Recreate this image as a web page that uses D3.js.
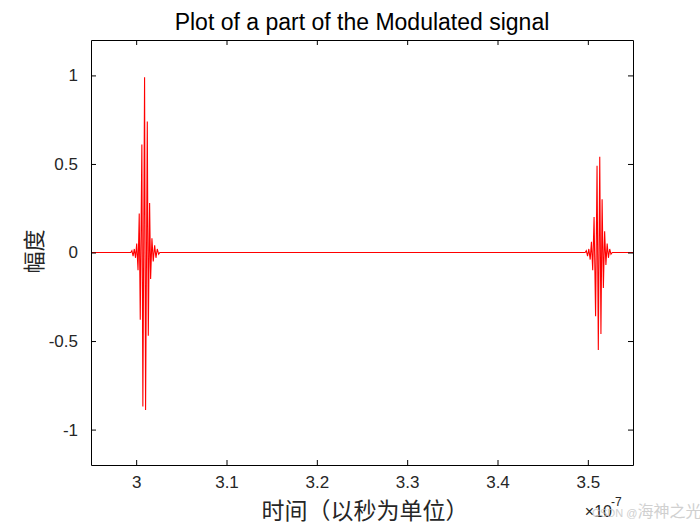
<!DOCTYPE html>
<html>
<head>
<meta charset="utf-8">
<script src="https://cdn.jsdelivr.net/npm/d3@7"></script>
<style>
body { margin: 0; background: #fff; }
text { font-family: "Liberation Sans", Arial, sans-serif; }
.cjk { font-family: "Noto Sans CJK SC", sans-serif; }
</style>
</head>
<body>
<script>
// time values in units of 1e-7 s, amplitude
var pulse1Time = [2.95, 2.99400, 2.99526, 2.99660, 2.99794, 2.99928, 3.00061, 3.00206, 3.00340, 3.00452,
                  3.00630, 3.00741, 3.00931, 3.01042, 3.01232, 3.01343, 3.01488, 3.01600,
                  3.01745, 3.01890, 3.02046, 3.02191, 3.02336, 3.02492, 3.02620];
var pulse1Amp  = [0, 0, 0.01, -0.02, 0.02, -0.03, 0.05, -0.10, 0.22, -0.38,
                  0.61, -0.87, 0.99, -0.89, 0.74, -0.47, 0.28, -0.15,
                  0.08, -0.05, 0.04, -0.03, 0.02, -0.01, 0];

var pulse2Time = [3.49700, 3.49830, 3.49970, 3.50110, 3.50260, 3.50400, 3.50540, 3.50690, 3.50860,
                  3.51020, 3.51160, 3.51320, 3.51450, 3.51580, 3.51720, 3.51860, 3.52000,
                  3.52140, 3.52280, 3.52420, 3.52560, 3.52700, 3.55];
var pulse2Amp  = [0, 0.01, -0.02, 0.02, -0.04, 0.06, -0.10, 0.20, -0.36,
                  0.49, -0.55, 0.54, -0.46, 0.30, -0.20, 0.12, -0.07,
                  0.05, -0.03, 0.02, -0.01, 0, 0];

var xTicks = [3.0, 3.1, 3.2, 3.3, 3.4, 3.5];
var yTicks = [-1, -0.5, 0, 0.5, 1];

var W = 700, H = 525;
var margin = {left: 91, right: 67, top: 40, bottom: 60};
var iw = W - margin.left - margin.right;
var ih = H - margin.top - margin.bottom;

var svg = d3.select("body").append("svg").attr("width", W).attr("height", H);

var x = d3.scaleLinear().domain([2.95, 3.55]).range([0, iw]);
var y = d3.scaleLinear().domain([-1.2, 1.2]).range([ih, 0]);

var g = svg.append("g").attr("transform", "translate(" + margin.left + "," + margin.top + ")");

var data = [];
pulse1Time.forEach(function(t, i){ data.push({t: t, v: pulse1Amp[i]}); });
pulse2Time.forEach(function(t, i){ data.push({t: t, v: pulse2Amp[i]}); });

var line = d3.line()
    .x(function(d){ return x(d.t); })
    .y(function(d){ return y(d.v); });

g.append("path").attr("d", line(data))
    .attr("fill", "none").attr("stroke", "#ff0000").attr("stroke-width", 1.1);

// axes, MATLAB style box with inward ticks (plain hyphen for minus)
var fmt = function(d){ return String(d); };
var xAxis = d3.axisBottom(x).tickValues(xTicks).tickSizeInner(-5).tickSizeOuter(0).tickPadding(11).tickFormat(fmt);
var xTop = d3.axisTop(x).tickValues(xTicks).tickSizeInner(-5).tickSizeOuter(0).tickFormat("");
var yAxis = d3.axisLeft(y).tickValues(yTicks).tickSizeInner(-5).tickSizeOuter(0).tickPadding(13).tickFormat(fmt);
var yRight = d3.axisRight(y).tickValues(yTicks).tickSizeInner(-5).tickSizeOuter(0).tickFormat("");

function style(sel){
  sel.selectAll("path").attr("stroke", "#000");
  sel.selectAll("line").attr("stroke", "#000");
  sel.selectAll("text").attr("fill", "#262626").style("font-size", "17px")
     .style("font-family", "'Liberation Sans', Arial, sans-serif");
}
g.append("g").attr("transform", "translate(0," + ih + ")").call(xAxis).call(style);
g.append("g").call(xTop).call(style);
g.append("g").call(yAxis).call(style);
g.append("g").attr("transform", "translate(" + iw + ",0)").call(yRight).call(style);

// title and labels
svg.append("text").attr("x", margin.left + iw / 2).attr("y", 30)
    .attr("text-anchor", "middle").style("font-size", "23px").attr("fill", "#000")
    .text("Plot of a part of the Modulated signal");

svg.append("text").attr("class", "cjk").attr("x", margin.left + iw / 2 + 3).attr("y", 519)
    .attr("text-anchor", "middle").style("font-size", "23px").attr("fill", "#262626")
    .text("时间（以秒为单位）");

svg.append("text").attr("class", "cjk")
    .attr("transform", "translate(42," + (margin.top + ih / 2 - 1) + ") rotate(-90)")
    .attr("text-anchor", "middle").style("font-size", "22px").attr("fill", "#262626")
    .text("幅度");

// exponent label
svg.append("text").attr("x", 612).attr("y", 517).attr("text-anchor", "end")
    .style("font-size", "16px").attr("fill", "#262626").text("×10");
svg.append("text").attr("x", 611).attr("y", 506).style("font-size", "12px").attr("fill", "#262626").text("-7");

// watermark (overlaps the exponent in the original too)
var wm = svg.append("text").attr("x", 592).attr("y", 517).attr("fill", "#c8c8c8").attr("opacity", 0.85);
wm.append("tspan").style("font-size", "11px").text("CSDN @");
wm.append("tspan").attr("class", "cjk").style("font-size", "16px").text("海神之光");
</script>
</body>
</html>
